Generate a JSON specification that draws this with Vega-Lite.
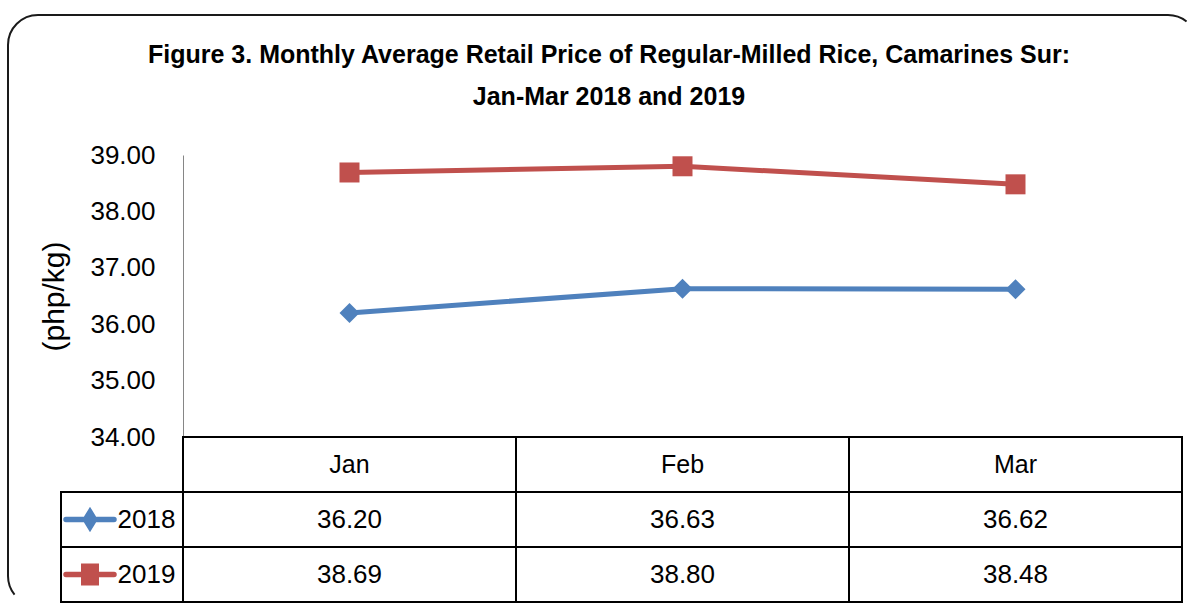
{
  "$schema": "https://vega.github.io/schema/vega-lite/v6.json",
  "width": 1190,
  "height": 591,
  "autosize": {"type": "none"},
  "padding": {"left": 8, "top": 15, "right": 0, "bottom": 0},
  "background": "white",
  "config": {
    "font": "Liberation Sans",
    "view": {"stroke": "#1a1a1a", "strokeWidth": 2, "cornerRadius": 30, "strokeDash": [1150, 1762, 605, 5000]}
  },
  "title": {
    "text": ["Figure 3. Monthly Average Retail Price of Regular-Milled Rice, Camarines Sur:", "Jan-Mar 2018 and 2019"],
    "font": "Liberation Sans",
    "fontSize": 25,
    "fontWeight": "bold",
    "color": "black",
    "anchor": "middle",
    "lineHeight": 42,
    "offset": -95,
    "dx": 6
  },
  "data": {
    "values": [
      {"month": "Jan", "year": "2018", "price": 36.20},
      {"month": "Feb", "year": "2018", "price": 36.63},
      {"month": "Mar", "year": "2018", "price": 36.62},
      {"month": "Jan", "year": "2019", "price": 38.69},
      {"month": "Feb", "year": "2019", "price": 38.80},
      {"month": "Mar", "year": "2019", "price": 38.48}
    ]
  },
  "layer": [
    {
      "mark": {"type": "line", "strokeWidth": 5},
      "encoding": {
        "x": {"field": "month", "type": "nominal", "scale": {"type": "point", "domain": ["Jan", "Feb", "Mar"], "range": [175, 1174], "padding": 0.5}, "axis": null},
        "y": {"field": "price", "type": "quantitative", "scale": {"domain": [34, 39], "range": [422, 140], "nice": false, "zero": false},
          "axis": {"values": [34, 35, 36, 37, 38, 39], "format": ".2f", "offset": -175, "ticks": false, "grid": false,
            "domainColor": "#868686", "domainWidth": 1, "labelFont": "Liberation Sans", "labelFontSize": 26, "labelColor": "black",
            "labelPadding": 28, "labelFlush": false, "labelOverlap": false, "labelBaseline": "middle",
            "title": "(php/kg)", "titleFont": "Liberation Sans", "titleFontSize": 30, "titleFontWeight": "normal", "titleColor": "black", "titlePadding": 20}},
        "color": {"field": "year", "type": "nominal", "scale": {"domain": ["2018", "2019"], "range": ["#4F81BD", "#C0504D"]}, "legend": null}
      }
    },
    {
      "mark": {"type": "point", "filled": true, "size": 400, "opacity": 1},
      "encoding": {
        "x": {"field": "month", "type": "nominal", "scale": {"type": "point", "domain": ["Jan", "Feb", "Mar"], "range": [175, 1174], "padding": 0.5}, "axis": null},
        "y": {"field": "price", "type": "quantitative", "scale": {"domain": [34, 39], "range": [422, 140], "nice": false, "zero": false}, "axis": null},
        "color": {"field": "year", "type": "nominal", "scale": {"domain": ["2018", "2019"], "range": ["#4F81BD", "#C0504D"]}, "legend": null},
        "shape": {"field": "year", "type": "nominal", "scale": {"domain": ["2018", "2019"], "range": ["diamond", "square"]}, "legend": null}
      }
    },
    {
      "transform": [{"aggregate": [{"op": "count", "as": "n"}], "groupby": ["month"]}],
      "mark": {"type": "rect", "fill": "white", "stroke": "black", "strokeWidth": 2},
      "encoding": {
        "x": {"field": "month", "type": "nominal", "scale": {"type": "band", "domain": ["Jan", "Feb", "Mar"], "range": [175, 1174], "paddingInner": 0, "paddingOuter": 0}, "axis": null},
        "y": {"datum": "header", "type": "nominal", "scale": {"type": "band", "domain": ["header", "2018", "2019"], "range": [422, 587], "paddingInner": 0, "paddingOuter": 0}, "axis": null}
      }
    },
    {
      "transform": [{"aggregate": [{"op": "count", "as": "n"}], "groupby": ["month"]}],
      "mark": {"type": "text", "font": "Liberation Sans", "fontSize": 25, "color": "black"},
      "encoding": {
        "x": {"field": "month", "type": "nominal", "scale": {"type": "band", "domain": ["Jan", "Feb", "Mar"], "range": [175, 1174], "paddingInner": 0, "paddingOuter": 0}, "axis": null},
        "y": {"datum": "header", "type": "nominal", "scale": {"type": "band", "domain": ["header", "2018", "2019"], "range": [422, 587], "paddingInner": 0, "paddingOuter": 0}, "axis": null},
        "text": {"field": "month"}
      }
    },
    {
      "mark": {"type": "rect", "fill": "white", "stroke": "black", "strokeWidth": 2},
      "encoding": {
        "x": {"field": "month", "type": "nominal", "scale": {"type": "band", "domain": ["Jan", "Feb", "Mar"], "range": [175, 1174], "paddingInner": 0, "paddingOuter": 0}, "axis": null},
        "y": {"field": "year", "type": "nominal", "scale": {"type": "band", "domain": ["header", "2018", "2019"], "range": [422, 587], "paddingInner": 0, "paddingOuter": 0}, "axis": null}
      }
    },
    {
      "mark": {"type": "text", "font": "Liberation Sans", "fontSize": 26, "color": "black"},
      "encoding": {
        "x": {"field": "month", "type": "nominal", "scale": {"type": "band", "domain": ["Jan", "Feb", "Mar"], "range": [175, 1174], "paddingInner": 0, "paddingOuter": 0}, "axis": null},
        "y": {"field": "year", "type": "nominal", "scale": {"type": "band", "domain": ["header", "2018", "2019"], "range": [422, 587], "paddingInner": 0, "paddingOuter": 0}, "axis": null},
        "text": {"field": "price", "type": "quantitative", "format": ".2f"}
      }
    },
    {
      "transform": [{"aggregate": [{"op": "count", "as": "n"}], "groupby": ["year"]}],
      "mark": {"type": "rect", "fill": "white", "stroke": "black", "strokeWidth": 2},
      "encoding": {
        "x": {"datum": "legend", "type": "nominal", "scale": {"type": "band", "domain": ["legend"], "range": [53, 175], "paddingInner": 0, "paddingOuter": 0}, "axis": null},
        "y": {"field": "year", "type": "nominal", "scale": {"type": "band", "domain": ["header", "2018", "2019"], "range": [422, 587], "paddingInner": 0, "paddingOuter": 0}, "axis": null}
      }
    },
    {
      "transform": [{"aggregate": [{"op": "count", "as": "n"}], "groupby": ["year"]}],
      "mark": {"type": "text", "font": "Liberation Sans", "fontSize": 26, "color": "black"},
      "encoding": {
        "x": {"datum": "label", "type": "nominal", "scale": {"type": "point", "domain": ["symbol", "label"], "range": [82, 138.5], "padding": 0}, "axis": null},
        "y": {"field": "year", "type": "nominal", "scale": {"type": "band", "domain": ["header", "2018", "2019"], "range": [422, 587], "paddingInner": 0, "paddingOuter": 0}, "axis": null},
        "text": {"field": "year"}
      }
    },
    {
      "transform": [{"aggregate": [{"op": "count", "as": "n"}], "groupby": ["year"]}],
      "mark": {"type": "point", "filled": true, "size": 2304, "strokeWidth": 5.5, "strokeCap": "round", "opacity": 1},
      "encoding": {
        "x": {"datum": "symbol", "type": "nominal", "scale": {"type": "point", "domain": ["symbol", "label"], "range": [82, 138.5], "padding": 0}, "axis": null},
        "y": {"field": "year", "type": "nominal", "scale": {"type": "band", "domain": ["header", "2018", "2019"], "range": [422, 587], "paddingInner": 0, "paddingOuter": 0}, "axis": null},
        "fill": {"field": "year", "type": "nominal", "scale": {"domain": ["2018", "2019"], "range": ["#4F81BD", "#C0504D"]}, "legend": null},
        "stroke": {"field": "year", "type": "nominal", "scale": {"domain": ["2018", "2019"], "range": ["#4F81BD", "#C0504D"]}, "legend": null},
        "shape": {"field": "year", "type": "nominal", "scale": {"domain": ["2018", "2019"], "range": ["M-1,0H1M0,-0.31L0.19,0L0,0.31L-0.19,0Z", "M-1,0H1M-0.26,-0.34H0.26V0.34H-0.26Z"]}, "legend": null}
      }
    }
  ],
  "resolve": {"scale": {"x": "independent", "y": "independent", "shape": "independent"}}
}
